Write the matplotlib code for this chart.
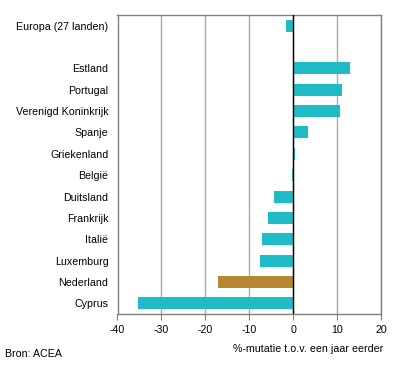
import matplotlib.pyplot as plt
import numpy as np

plt.rcParams['font.family'] = ['Liberation Sans', 'DejaVu Sans']

# data
landen = ['Europa (27 landen)', '', 'Estland', 'Portugal', 'Verenigd Koninkrijk',
          'Spanje', 'Griekenland', 'België', 'Duitsland', 'Frankrijk', 'Italië',
          'Luxemburg', 'Nederland', 'Cyprus']
mutatie = [-1.7, np.nan, 12.9, 11.1, 10.6, 3.3, 0.4, -0.3, -4.4, -5.8, -7.1,
           -7.6, -17.1, -35.3]
xticks = [-40, -30, -20, -10, 0, 10, 20]

teal = '#1FBCC6'
bruin = '#B8862F'
kleuren = [bruin if l == 'Nederland' else teal for l in landen]

fig = plt.figure(figsize=(3.96, 3.67), dpi=100)
ax = fig.add_axes([117.5 / 396, 1 - 314 / 367, (381 - 117.5) / 396, (314 - 15) / 367])

pos = np.arange(len(landen))
ax.barh(pos, np.nan_to_num(mutatie), height=0.56, color=kleuren, zorder=3)
ax.axvline(0, color='black', lw=1, zorder=4)

fs = 7.7
ax.set_xlim(-40, 20)
ax.set_ylim(len(landen) - 0.5, -0.5)
ax.set_xticks(xticks)
ax.set_xticklabels([str(t) for t in xticks], fontsize=fs)
ax.set_yticks(pos)
ax.set_yticklabels(landen, fontsize=fs)
ax.tick_params(axis='y', length=0, pad=6.5)
ax.tick_params(axis='x', length=4, width=0.8, color='#808080', pad=4)
ax.grid(axis='x', color='#AAAAAA', lw=1, zorder=0)
for s in ax.spines.values():
    s.set_color('#808080')
    s.set_linewidth(1)

fig.text(383 / 396, 1 - 349 / 367, '%-mutatie t.o.v. een jaar eerder', fontsize=fs,
         ha='right', va='center')
fig.text(5 / 396, 1 - 354 / 367, 'Bron: ACEA', fontsize=fs, ha='left', va='center')

fig.savefig('out.png', dpi=100)
